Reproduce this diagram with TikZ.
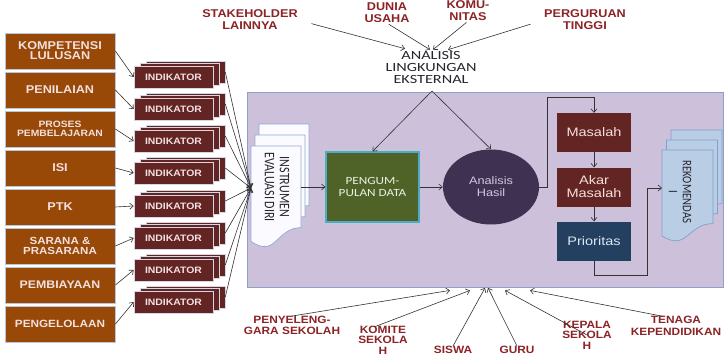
\documentclass[tikz,border=0pt]{standalone}
\usepackage{fontspec}
\usetikzlibrary{shapes.geometric,arrows.meta,calc}
\newfontfamily\arlf[FakeStretch=1.18]{Liberation Sans}
\newfontfamily\arbf[FakeStretch=1.12]{Liberation Sans}
\newfontfamily\calf[FakeStretch=1.2]{Carlito}
\newfontfamily\calw[FakeStretch=1.3]{Carlito}
\newfontfamily\calrot[FakeStretch=0.83]{Carlito}
\definecolor{labred}{RGB}{140,35,38}
\definecolor{boxbrown}{RGB}{152,72,7}
\definecolor{boxline}{RGB}{185,198,222}
\definecolor{boxtext}{RGB}{244,224,222}
\definecolor{indred}{RGB}{99,37,35}
\definecolor{indline}{RGB}{215,215,225}
\definecolor{framefill}{RGB}{204,192,218}
\definecolor{frameline}{RGB}{140,160,200}
\definecolor{greenfill}{RGB}{79,98,40}
\definecolor{greenline}{RGB}{75,172,198}
\definecolor{greentext}{RGB}{235,241,222}
\definecolor{ellfill}{RGB}{63,49,81}
\definecolor{elltext}{RGB}{210,200,225}
\definecolor{bluebox}{RGB}{36,64,97}
\definecolor{bluetext}{RGB}{220,230,242}
\definecolor{instfill}{RGB}{250,250,255}
\definecolor{instline}{RGB}{150,170,210}
\definecolor{rekfill}{RGB}{185,205,229}
\definecolor{rekline}{RGB}{130,160,205}
\definecolor{darktext}{RGB}{38,38,45}
\newcommand{\docshape}[5]{%
  \draw[#1] (#2,#3) -- ({#2+#4},#3) -- ({#2+#4},{#3+0.8*#5})
    .. controls ({#2+0.5*#4},{#3+0.8*#5}) and ({#2+0.5*#4},{#3+1.107*#5}) ..
    (#2,{#3+0.934*#5}) -- cycle;}
\begin{document}
\begin{tikzpicture}[x=1pt,y=-1pt,
  conn/.style={draw=black!80, line width=0.6pt},
  arr/.style={conn, -{Straight Barb[length=3.5pt,width=6pt]}},
  lbox/.style={rectangle, draw=boxline, line width=0.8pt, fill=boxbrown,
    minimum width=110pt, minimum height=36pt, inner sep=1pt, align=center, text=boxtext},
  indf/.style={rectangle, draw=indline, line width=0.6pt, fill=indred,
    minimum width=79pt, minimum height=22pt, inner sep=0pt, text=boxtext,
    font=\arbf\bfseries\fontsize{9.3}{10}\selectfont},
  lab/.style={text=labred, align=center, inner sep=0pt},
  toplab/.style={lab, font=\arbf\bfseries\fontsize{11.3}{12}\selectfont},
  botlab/.style={lab, font=\arbf\bfseries\fontsize{10.6}{10.5}\selectfont},
  rbox/.style={rectangle, minimum width=74pt, minimum height=39pt, inner sep=0pt,
    align=center, font=\arlf\fontsize{12.3}{13}\selectfont},
  instdoc/.style={fill=instfill, draw=instline, line width=0.7pt},
  rekdoc/.style={fill=rekfill, draw=rekline, line width=0.7pt},
]
\useasboundingbox (0,0) rectangle (728,357);
\fill[white] (0,0) rectangle (728,357);

% main frame
\node[draw=frameline, fill=framefill, line width=0.8pt, minimum width=476pt,
  minimum height=195pt, inner sep=0pt] (frame) at (485,189.5) {};

% left boxes
\node[lbox, font=\arbf\bfseries\fontsize{11.3}{10}\selectfont] (b1) at (60,51) {KOMPETENSI\\LULUSAN};
\node[lbox, font=\arbf\bfseries\fontsize{11.3}{10}\selectfont] (b2) at (60,90) {PENILAIAN};
\node[lbox, font=\arbf\bfseries\fontsize{9.2}{9.5}\selectfont] (b3) at (60,129) {PROSES\\PEMBELAJARAN};
\node[lbox, font=\arbf\bfseries\fontsize{11.3}{10}\selectfont] (b4) at (60,168) {ISI};
\node[lbox, font=\arbf\bfseries\fontsize{11.3}{10}\selectfont] (b5) at (60,207) {PTK};
\node[lbox, font=\arbf\bfseries\fontsize{10.3}{10.5}\selectfont] (b6) at (60,246) {SARANA \&\\PRASARANA};
\node[lbox, font=\arbf\bfseries\fontsize{11}{10}\selectfont] (b7) at (60,285) {PEMBIAYAAN};
\node[lbox, font=\arbf\bfseries\fontsize{10.5}{10}\selectfont] (b8) at (60,324) {PENGELOLAAN};

% indicators (stacked)
\foreach \i/\c in {1/77,2/109,3/141,4/173,5/206,6/238,7/270,8/302}{
  \node[indf] (indb\i) at (185.5,{\c-5}) {};
  \node[indf] (indm\i) at (179.5,{\c-2.5}) {};
  \node[indf] (ind\i) at (173.5,\c) {INDIKATOR};
}
\foreach \i in {1,...,8}{
  \draw[arr] (b\i.east) -- (ind\i.west);
}

% instrumen document
\docshape{instdoc}{259}{124}{50}{102}
\docshape{instdoc}{255}{135}{50}{102}
\docshape{instdoc}{251}{146}{50}{102}
\node[rotate=-90, align=center, text=darktext, inner sep=0pt,
  font=\calrot\fontsize{14.5}{15}\selectfont] (inst) at (277,187) {INSTRUMEN\\EVALUASI DIRI};
\coordinate (instL) at (251,188);
\coordinate (instR) at (301,187);
\foreach \i in {1,...,8}{
  \draw[arr] (indb\i.east) -- (instL);
}

% pengumpulan data and analisis hasil
\node[rectangle, fill=greenfill, draw=greenline, line width=1.2pt, minimum width=93pt,
  minimum height=70pt, inner sep=0pt, align=center, text=greentext,
  font=\calf\fontsize{11}{11.5}\selectfont] (peng) at (372.5,187) {PENGUM-\\PULAN DATA};
\node[ellipse, fill=ellfill, minimum width=96pt, minimum height=75pt, inner sep=0pt,
  align=center, text=elltext, font=\arlf\fontsize{10.8}{12}\selectfont] (hasil) at (491,187) {Analisis\\Hasil};
\draw[arr] (instR) -- (peng.west);
\draw[arr] (peng.east) -- (hasil.west);

% analisis lingkungan eksternal
\node[align=center, text=darktext, inner sep=0pt,
  font=\calw\fontsize{12.5}{12}\selectfont] (ana) at (431,67) {ANALISIS\\LINGKUNGAN\\EKSTERNAL};
\coordinate (apex) at (432,91);
\draw[arr] (apex) -- (peng.north);
\draw[arr] (apex) -- (hasil.north);

% top stakeholders
\node[toplab] (stake) at (250,20) {STAKEHOLDER\\LAINNYA};
\node[toplab] (dunia) at (387,13) {DUNIA\\USAHA};
\node[toplab] (komu) at (468,11) {KOMU-\\NITAS};
\node[toplab] (pergu) at (585,20) {PERGURUAN\\TINGGI};
\draw[arr, shorten <=14pt] (stake.east) -- ($(ana.north)+(-26,-2)$);
\draw[arr, shorten <=2pt] (dunia.south) -- ($(ana.north)+(-1,-1)$);
\draw[arr, shorten <=2pt] (komu.south) -- ($(ana.north)+(2,-1)$);
\draw[arr, shorten <=14pt] (pergu.west) -- ($(ana.north)+(17,-1)$);

% right flow
\node[rbox, fill=indred, text=boxtext] (mas) at (594,132.5) {Masalah};
\node[rbox, fill=indred, text=boxtext] (akar) at (594,187) {Akar\\Masalah};
\node[rbox, fill=bluebox, text=bluetext] (prio) at (594,241) {Prioritas};
\draw[arr] (hasil.east) -- ++(8,0) |- ($(mas.north)+(0,-16)$) -- (mas.north);
\draw[arr] (mas.south) -- (akar.north);
\draw[arr] (akar.south) -- (prio.north);

% rekomendasi document
\docshape{rekdoc}{671}{130}{51}{92}
\docshape{rekdoc}{666.5}{140}{51}{92}
\docshape{rekdoc}{662}{150}{51}{92}
\node[rotate=-90, align=center, text=darktext, inner sep=0pt,
  font=\calrot\fontsize{13}{14}\selectfont] (rek) at (680,192) {REKOMENDAS\\I};
\coordinate (rekL) at (662,188);
\draw[arr] (prio.south) -- ++(0,15) -| ($(rekL)+(-15,0)$) -- (rekL);

% bottom stakeholders
\node[botlab, font=\arbf\bfseries\fontsize{10.6}{11}\selectfont] (peny) at (292,325.5) {PENYELENG-\\GARA SEKOLAH};
\node[botlab] (komite) at (383,340) {KOMITE\\SEKOLA\\H};
\node[botlab] (siswa) at (453,350) {SISWA};
\node[botlab] (guru) at (517,350) {GURU};
\node[botlab] (kepala) at (587,335) {KEPALA\\SEKOLA\\H};
\node[botlab, font=\arbf\bfseries\fontsize{10.6}{11.5}\selectfont] (tenaga) at (676,326) {TENAGA\\KEPENDIDIKAN};
\draw[arr] (peny.north) -- ($(frame.south)+(-35,3)$);
\draw[arr] ($(komite.north)+(-8,1)$) -- ($(frame.south)+(-15,3)$);
\draw[arr] (siswa.north) -- ($(frame.south)+(0,0.5)$);
\draw[arr] (guru.north) -- ($(frame.south)+(3,0.5)$);
\draw[arr] (kepala.center) -- ($(frame.south)+(20,3)$);
\draw[arr] ($(tenaga.north)+(-13,0)$) -- ($(frame.south)+(45,3)$);
\end{tikzpicture}
\end{document}
